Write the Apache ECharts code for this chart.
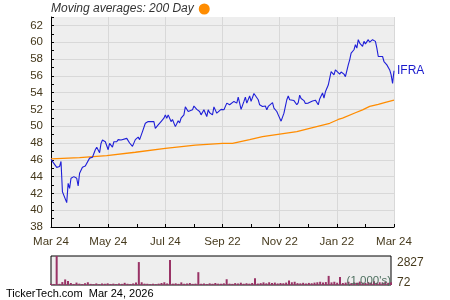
<!DOCTYPE html>
<html><head><meta charset="utf-8">
<script src="https://cdn.jsdelivr.net/npm/echarts@6/dist/echarts.min.js"></script>
<style>html,body{margin:0;padding:0;background:#fff}#c{width:450px;height:300px}</style>
</head><body><div id="c"></div>
<script>
// x tick labels (every 40 trading-day units)
const xLabels = ['Mar 24','May 24','Jul 24','Sep 22','Nov 22','Jan 22','Mar 24'];
// price: [day index, close]
const price = [[0,46.05],[4,45.1],[6,45.2],[7,45.8],[8,42.2],[11,40.9],[12,43.2],[13,42.6],[14,43.8],[16,44.0],[18,43.8],[19,42.9],[20,44.4],[22,45.1],[24,45.25],[25,45.1],[27,46.2],[29,46.3],[31,47.2],[32,47.5],[34,46.85],[35,47.95],[36,48.35],[38,48.15],[40,47.2],[41,47.95],[43,47.5],[44,48.15],[46,48.15],[47,48.4],[49,48.35],[50,48.55],[53,48.55],[55,48.0],[57,47.6],[59,48.4],[61,48.7],[62,48.4],[64,49.35],[66,50.35],[67,50.15],[68,50.55],[69,50.35],[72,50.55],[73,49.75],[75,50.15],[77,50.55],[79,50.95],[80,51.35],[81,50.95],[82,51.35],[84,50.55],[85,50.8],[87,49.95],[89,50.65],[90,50.4],[91,50.95],[93,51.35],[94,52.3],[96,51.75],[97,51.55],[99,51.95],[100,52.4],[102,52.0],[103,52.15],[104,51.75],[105,51.35],[107,51.95],[108,51.55],[109,51.15],[110,51.95],[111,51.6],[113,51.35],[114,52.3],[116,51.55],[117,51.35],[119,52.0],[121,51.95],[122,51.75],[123,52.75],[125,52.55],[126,52.75],[128,52.95],[130,52.75],[131,53.45],[132,52.75],[133,52.0],[135,52.95],[136,53.45],[137,52.75],[139,53.6],[140,52.95],[142,53.9],[143,53.85],[145,53.15],[146,52.55],[148,52.35],[150,52.4],[151,51.95],[152,52.35],[153,52.15],[155,52.8],[156,52.15],[158,51.75],[159,51.35],[160,51.15],[161,50.6],[163,51.55],[164,52.35],[165,53.15],[166,53.6],[167,53.15],[168,52.95],[170,53.05],[172,52.55],[173,52.8],[174,53.7],[175,53.3],[177,53.05],[178,52.7],[180,52.75],[181,52.6],[183,53.0],[185,53.1],[187,52.55],[188,53.25],[190,53.95],[191,53.35],[192,54.1],[194,54.9],[195,55.7],[196,56.5],[198,56.1],[199,56.7],[200,56.85],[202,56.2],[203,56.45],[205,56.2],[206,55.9],[208,57.3],[209,57.9],[210,58.7],[212,59.1],[213,59.7],[214,59.3],[215,60.3],[216,59.9],[218,59.5],[219,60.1],[220,59.8],[222,60.3],[223,60.0],[225,60.3],[226,60.4],[227,60.1],[228,59.3],[229,58.3],[230,58.1],[232,58.3],[233,57.7],[234,57.8],[235,57.3],[236,57.4],[237,56.7],[238,56.1],[239,55.1],[240,56.6]];
// 200 day moving average: [day index, value]
const ma200 = [[0,46.1],[20,46.25],[39,46.5],[59,46.9],[80,47.35],[101,47.75],[120,47.95],[127,47.95],[139,48.4],[148,48.75],[160,49.05],[172,49.35],[181,49.75],[188,50.05],[195,50.35],[201,50.8],[204,50.95],[213,51.6],[218,51.95],[223,52.35],[229,52.6],[234,52.85],[240,53.1]];
// volume (1000's), one value every 2 day-index units
const volume = [200,170,2827,180,350,600,450,260,170,300,200,160,230,330,180,150,220,140,210,190,230,170,200,160,210,180,280,190,170,220,320,2250,330,200,190,160,180,150,200,260,330,220,2440,200,230,180,320,190,220,260,180,200,1290,190,210,170,230,190,260,200,180,230,620,200,180,250,210,290,190,240,200,260,715,210,250,320,230,330,260,300,220,260,240,300,500,330,380,250,230,280,220,270,240,300,330,380,300,350,936,320,380,290,840,260,300,380,250,320,280,400,300,260,350,300,420,280,330,300,370,280,330];
const volTicks = [72, 2827];

const txt = '#45391c';
const font = 'Liberation Sans, Arial, sans-serif';
const chart = echarts.init(document.getElementById('c'), null, {renderer:'canvas'});
chart.setOption({
  animation: false,
  textStyle: {fontFamily: font},
  title: {text: 'TickerTech.com  Mar 24, 2026', left: 6, top: 288, padding: 0,
    textStyle: {fontSize: 11, fontWeight: 'normal', color: '#000', fontFamily: font}},
  legend: {left: 51, top: 3, padding: 0, align: 'right', icon: 'circle', itemWidth: 11, itemHeight: 11,
    data: ['Moving averages: 200 Day'], selectedMode: false,
    textStyle: {fontStyle: 'italic', fontSize: 12, color: '#333', fontFamily: font, padding: [0,0,0,0]}},
  graphic: [{type: 'text', right: 59, top: 275, z: 100,
    style: {text: "(1,000's)", fill: '#4f7060', font: '11.5px ' + font}}],
  grid: [
    {left: 51, right: 56, top: 17, height: 210, show: true, backgroundColor: '#eeeeee', borderWidth: 0, containLabel: false, outerBoundsMode: 'none'},
    {left: 51, right: 59, top: 256, height: 29, show: true, backgroundColor: '#eeeeee', borderColor: '#000', borderWidth: 1, containLabel: false, outerBoundsMode: 'none'}
  ],
  xAxis: [
    {type: 'value', gridIndex: 0, min: 0, max: 240, interval: 20,
      axisLine: {show: true, lineStyle: {color: '#000', width: 1}},
      axisTick: {show: true, inside: true, length: 3, lineStyle: {color: '#000'}},
      axisLabel: {color: txt, fontSize: 11.5, margin: 9, showMinLabel: true, showMaxLabel: true,
        formatter: v => (v % 40 === 0 ? xLabels[v / 40] : '')},
      splitLine: {show: true, lineStyle: {color: ['#d8d8d8', 'rgba(0,0,0,0)'], width: 1}}},
    {type: 'value', gridIndex: 1, min: 0, max: 240, show: false}
  ],
  yAxis: [
    {type: 'value', gridIndex: 0, min: 38, max: 63, interval: 1,
      axisLine: {show: true, lineStyle: {color: '#000', width: 1}},
      axisTick: {show: true, inside: true, length: 3, lineStyle: {color: '#000'}},
      axisLabel: {color: txt, fontSize: 11.5, margin: 8, formatter: v => (v % 2 === 0 ? String(v) : '')},
      splitLine: {show: true, lineStyle: {color: ['#d8d8d8', 'rgba(0,0,0,0)'], width: 1}}},
    {type: 'value', gridIndex: 1, position: 'right', min: volTicks[0], max: volTicks[1], interval: volTicks[1] - volTicks[0],
      axisLine: {show: false}, axisTick: {show: false}, splitLine: {show: false},
      axisLabel: {color: txt, fontSize: 12, margin: 6, showMinLabel: true, showMaxLabel: true,
        formatter: v => (v >= volTicks[1] ? '{a|' + v + '}' : '{b|' + v + '}'),
        rich: {a: {fontSize: 12, color: txt, padding: [14, 0, 0, 0]}, b: {fontSize: 12, color: txt, padding: [0, 0, 5, 0]}}}}
  ],
  series: [
    {name: 'IFRA', type: 'line', xAxisIndex: 0, yAxisIndex: 0, data: price, showSymbol: false, symbol: 'none',
      lineStyle: {color: '#1f1fd8', width: 1.1}, itemStyle: {color: '#1f1fd8'}, z: 3,
      endLabel: {show: true, formatter: 'IFRA', color: '#1a1acc', fontSize: 12, distance: 3}},
    {name: 'Moving averages: 200 Day', type: 'line', xAxisIndex: 0, yAxisIndex: 0, data: ma200, showSymbol: false, symbol: 'none',
      lineStyle: {color: '#ff8c00', width: 1.3}, itemStyle: {color: '#ff8c00'}, z: 2},
    {name: 'Volume', type: 'bar', xAxisIndex: 1, yAxisIndex: 1, barWidth: 2, clip: true,
      data: volume.map((v, k) => [k * 2, v]), itemStyle: {color: '#993366'}}
  ]
});
</script></body></html>
